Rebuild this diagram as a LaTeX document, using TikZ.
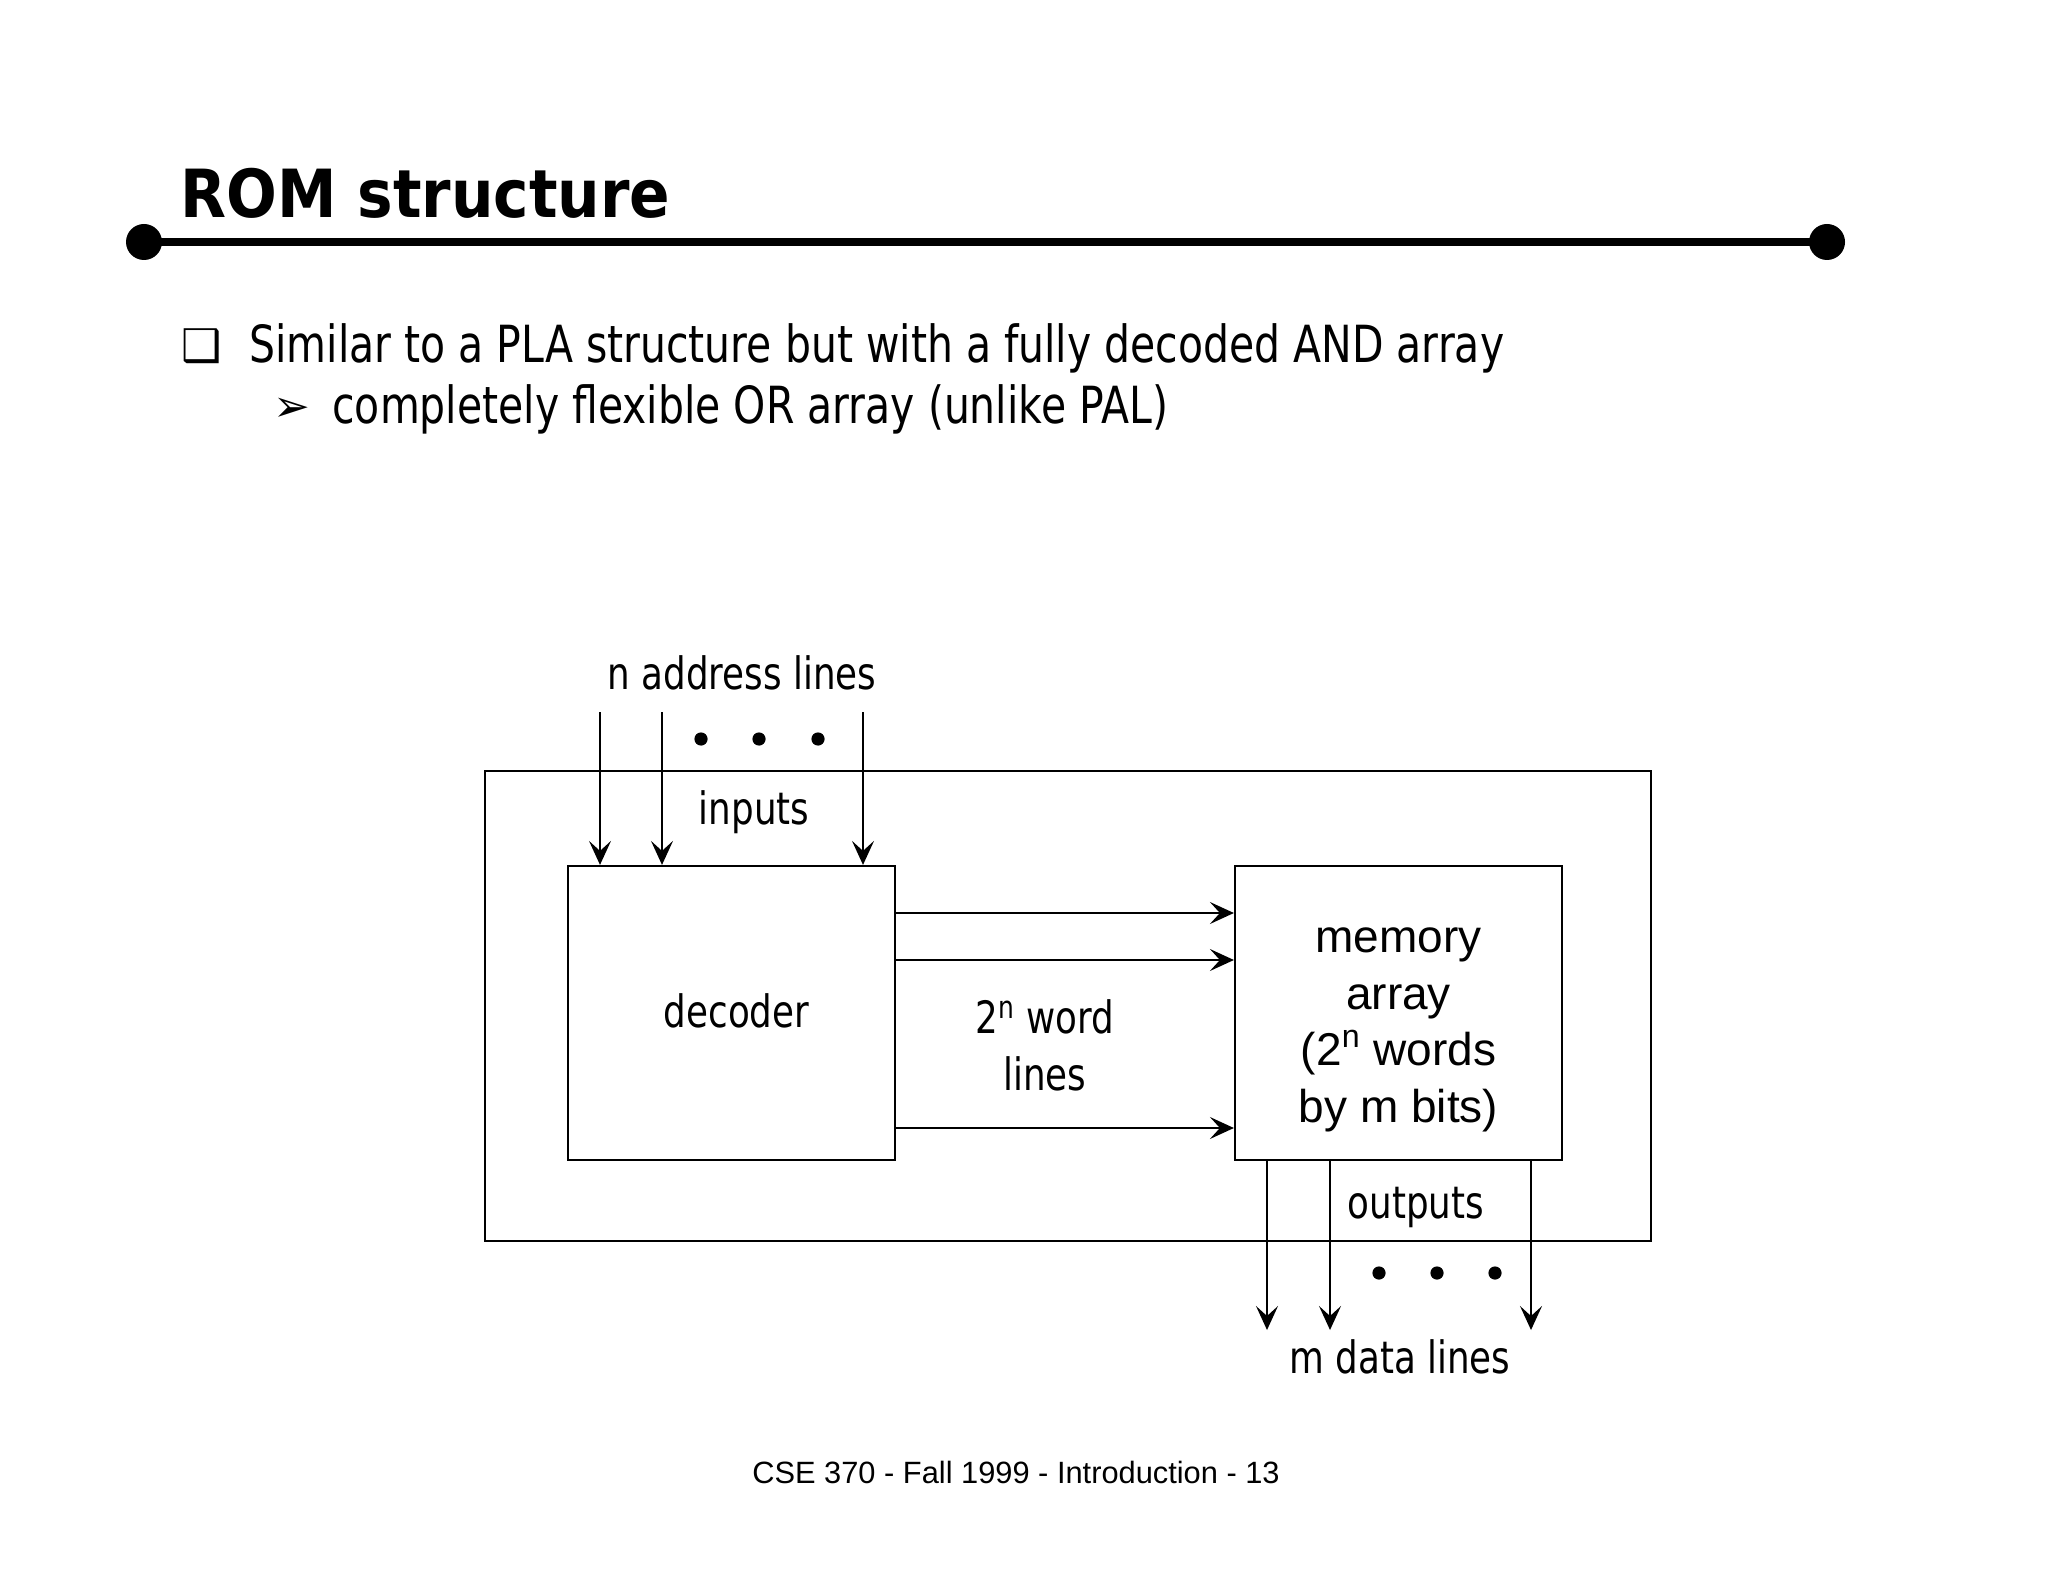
\documentclass[tikz,border=0pt]{standalone}
\usepackage{fontspec}
\setmainfont{DejaVu Sans}[FakeStretch=0.8]
\newfontfamily\titlefont{DejaVu Sans}[FakeStretch=0.9]
\newfontfamily\symfont{DejaVu Sans}
\newfontfamily\arialfont{Liberation Sans}
\usetikzlibrary{arrows.meta}

\tikzset{
    box/.style={draw,line width=1.1pt,minimum width=163.5pt,minimum height=147pt,inner sep=0pt},
    line/.style={line width=0.9pt,-{Stealth[length=12pt,width=11pt,inset=5pt]}},
    lbl/.style={font=\fontsize{22.3}{28.5}\selectfont,align=center,inner sep=0pt},
}

\begin{document}
\begin{tikzpicture}[x=0.5pt,y=-0.5pt]
    \useasboundingbox (0,0) rectangle (2048,1582);

    % title and rule
    \node[anchor=base west,inner sep=0pt,font=\titlefont\bfseries\fontsize{33.2}{40}\selectfont] (title) at (180,218) {ROM structure};
    \draw[line width=4pt] (144,242) coordinate (r1) -- (1827,242) coordinate (r2);
    \fill (r1) circle[radius=9pt] (r2) circle[radius=9pt];

    % bullets
    \node[anchor=base west,inner sep=0pt,font=\symfont\fontsize{22.5}{26}\selectfont] (b1) at (181,362) {❑};
    \node[anchor=base west,inner sep=0pt,font=\fontsize{25.6}{30}\selectfont] (t1) at (249,363) {Similar to a PLA structure but with a fully decoded AND array};
    \node[anchor=base west,inner sep=0pt,font=\symfont\fontsize{22}{26}\selectfont] (b2) at (273,422) {➢};
    \node[anchor=base west,inner sep=0pt,font=\fontsize{25.6}{30}\selectfont] (t2) at (332,424) {completely flexible OR array (unlike PAL)};

    % blocks
    \node[draw,line width=1.1pt,minimum width=583pt,minimum height=235pt] (rom) at (1068,1006) {};
    \node[box,lbl] (dec) at (731.5,1013) {\hspace*{5pt}\raisebox{2.5pt}{decoder}};
    \node[box] (mem) at (1398.5,1013) {};
    \node[font=\arialfont\fontsize{23}{28.3}\selectfont,align=center,inner sep=0pt] (memtxt) at ([yshift=-8.5pt]mem.center) {memory\\array\\(2\textsuperscript{n} words\\by m bits)};

    % inputs
    \node[lbl] (addr) at (742,673) {n address lines};
    \foreach \x [count=\i] in {600,662,863} {
        \coordinate (in\i) at (\x,712);
        \draw[line] (in\i) -- (in\i |- dec.north);
    }
    \foreach \x in {701,759,818}
        \fill (\x,739) circle[radius=3.3pt];
    \node[lbl] (inp) at (754,812) {inputs};

    % word lines
    \foreach \y in {913,960,1128}
        \draw[line] (dec.east |- 0,\y) -- (mem.west |- 0,\y);
    \node[lbl] (word) at (1045,1045) {2\textsuperscript{n} word\\lines};

    % outputs
    \foreach \x [count=\i] in {1267,1330,1531} {
        \coordinate (out\i) at (\x,1330);
        \draw[line] (out\i |- mem.south) -- (out\i);
    }
    \foreach \x in {1379,1437,1495}
        \fill (\x,1273) circle[radius=3.3pt];
    \node[lbl] (outp) at (1416,1207) {outputs};
    \node[lbl] (data) at (1400,1357) {m data lines};

    \node[font=\arialfont\fontsize{15.4}{18}\selectfont] (foot) at (1016,1472) {CSE 370 - Fall 1999 - Introduction - 13};
\end{tikzpicture}
\end{document}
